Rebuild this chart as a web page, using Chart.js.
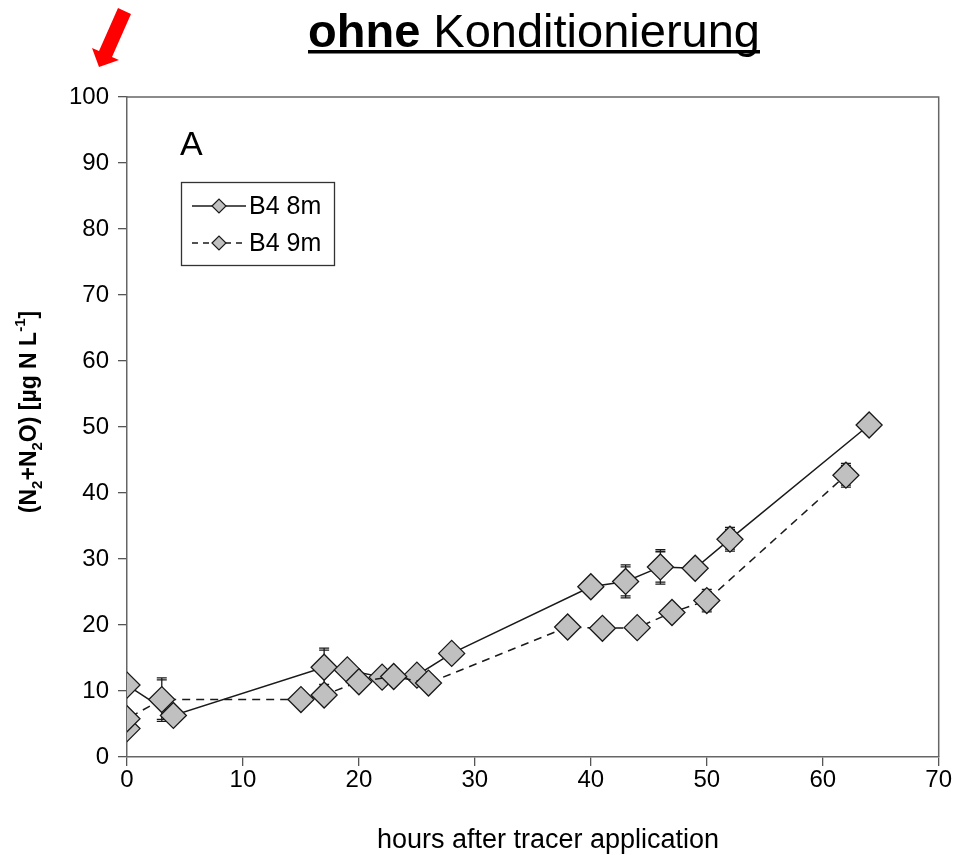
<!DOCTYPE html>
<html>
<head>
<meta charset="utf-8">
<script src="https://cdn.jsdelivr.net/npm/chart.js@4/dist/chart.umd.min.js"></script>
<style>
  html, body { margin: 0; padding: 0; background: #fff; }
  #wrap { width: 953px; height: 855px; position: relative; }
</style>
</head>
<body>
<div id="wrap"><canvas id="c" width="953" height="855"></canvas></div>
<script>
// Sampling times (hours after tracer application) and N2+N2O concentrations (µg N/L)
const hours8m = [0, 4, 17, 19, 22, 25, 28, 40, 43, 46, 49, 52, 64];
const values8m = [10.9, 6.3, 13.6, 13.2, 12.1, 12.4, 15.7, 25.8, 26.6, 28.8, 28.6, 33.0, 50.3];
const errors8m = [0, 0, 2.9, 0, 0, 0, 0, 0, 2.5, 2.6, 0, 1.8, 0];

const hours9m = [0, 0, 3, 15, 17, 20, 23, 26, 38, 41, 44, 47, 50, 62];
const values9m = [4.3, 5.8, 8.7, 8.7, 9.4, 11.4, 12.2, 11.2, 19.7, 19.5, 19.6, 21.9, 23.7, 42.7];
const errors9m = [0, 0, 3.3, 0, 0, 0, 0, 0, 0, 0, 0, 0, 1.7, 1.8];

const seriesNames = ['B4 8m', 'B4 9m'];
const xTicks = [0, 10, 20, 30, 40, 50, 60, 70];
const yTicks = [0, 10, 20, 30, 40, 50, 60, 70, 80, 90, 100];

const titleBold = 'ohne';
const titleRest = ' Konditionierung';
const panelLabel = 'A';
const xTitle = 'hours after tracer application';

const FONT = '"Liberation Sans", Arial, sans-serif';
const MARKER_FILL = '#c0c0c0';
const MARKER_EDGE = '#1a1a1a';

function toPoints(xs, ys) { return xs.map((x, i) => ({ x: x, y: ys[i] })); }

// Vertical error bars with caps, painted beneath the markers
const errorBars = {
  id: 'errorBars',
  beforeDatasetsDraw(chart) {
    const ctx = chart.ctx;
    const xs = chart.scales.x, ys = chart.scales.y;
    const sets = [[hours8m, values8m, errors8m], [hours9m, values9m, errors9m]];
    ctx.save();
    ctx.strokeStyle = '#1a1a1a';
    ctx.lineWidth = 1.3;
    sets.forEach(([h, v, e]) => {
      h.forEach((t, i) => {
        if (!e[i]) return;
        const px = xs.getPixelForValue(t);
        const top = ys.getPixelForValue(v[i] + e[i]);
        const bot = ys.getPixelForValue(v[i] - e[i]);
        ctx.beginPath();
        ctx.moveTo(px, top); ctx.lineTo(px, bot);
        ctx.moveTo(px - 5, top); ctx.lineTo(px + 5, top);
        ctx.moveTo(px - 5, top + 2); ctx.lineTo(px + 5, top + 2);
        ctx.moveTo(px - 5, bot); ctx.lineTo(px + 5, bot);
        ctx.moveTo(px - 5, bot - 2); ctx.lineTo(px + 5, bot - 2);
        ctx.stroke();
      });
    });
    ctx.restore();
  }
};

function drawDiamond(ctx, x, y, r) {
  ctx.beginPath();
  ctx.moveTo(x - r, y); ctx.lineTo(x, y - r); ctx.lineTo(x + r, y); ctx.lineTo(x, y + r);
  ctx.closePath();
  ctx.fillStyle = MARKER_FILL; ctx.fill();
  ctx.strokeStyle = MARKER_EDGE; ctx.lineWidth = 1.2; ctx.stroke();
}

// Frame, title, arrow, panel letter, legend and axis titles
const decorations = {
  id: 'decorations',
  afterDraw(chart) {
    const ctx = chart.ctx;
    const a = chart.chartArea;
    ctx.save();

    // plot frame (top and right edges)
    ctx.strokeStyle = '#666';
    ctx.lineWidth = 1.5;
    ctx.beginPath();
    ctx.moveTo(a.left, a.top); ctx.lineTo(a.right, a.top); ctx.lineTo(a.right, a.bottom);
    ctx.stroke();

    // title with bold first word, underlined
    ctx.fillStyle = '#000';
    ctx.textBaseline = 'alphabetic';
    ctx.textAlign = 'left';
    const fsz = 47;
    ctx.font = 'bold ' + fsz + 'px ' + FONT;
    const wB = ctx.measureText(titleBold).width;
    ctx.font = fsz + 'px ' + FONT;
    const wR = ctx.measureText(titleRest).width;
    const tx = 534 - (wB + wR) / 2;
    const ty = 47;
    ctx.font = 'bold ' + fsz + 'px ' + FONT;
    ctx.fillText(titleBold, tx, ty);
    ctx.font = fsz + 'px ' + FONT;
    ctx.fillText(titleRest, tx + wB, ty);
    ctx.fillRect(tx, ty + 3, wB + wR, 3.5);

    // red arrow pointing at the top of the value axis
    ctx.fillStyle = '#ff0000';
    ctx.beginPath();
    ctx.moveTo(118, 8);
    ctx.lineTo(131, 14);
    ctx.lineTo(112, 57);
    ctx.lineTo(119, 60);
    ctx.lineTo(99, 67);
    ctx.lineTo(92, 48);
    ctx.lineTo(99, 51);
    ctx.closePath();
    ctx.fill();

    // panel letter
    ctx.fillStyle = '#000';
    ctx.font = '34px ' + FONT;
    ctx.fillText(panelLabel, 180, 155);

    // legend box
    ctx.strokeStyle = '#333';
    ctx.lineWidth = 1.3;
    ctx.strokeRect(181.5, 182.5, 153, 83);
    const rows = [206, 243];
    rows.forEach((yy, i) => {
      ctx.strokeStyle = '#1a1a1a';
      ctx.lineWidth = 1.3;
      ctx.setLineDash(i === 0 ? [] : [6, 5]);
      ctx.beginPath();
      ctx.moveTo(192, yy); ctx.lineTo(246, yy);
      ctx.stroke();
      ctx.setLineDash([]);
      drawDiamond(ctx, 219, yy, 7);
      ctx.fillStyle = '#000';
      ctx.font = '25px ' + FONT;
      ctx.textBaseline = 'middle';
      ctx.fillText(seriesNames[i], 249, yy + 1);
    });

    // x-axis title
    ctx.textAlign = 'center';
    ctx.textBaseline = 'alphabetic';
    ctx.font = '27px ' + FONT;
    ctx.fillText(xTitle, 548, 848);

    // y-axis title with sub- and superscripts
    ctx.translate(36, 412);
    ctx.rotate(-Math.PI / 2);
    const big = 'bold 23px ' + FONT;
    const small = 'bold 15px ' + FONT;
    const parts = [
      ['(N', big, 0], ['2', small, 6], ['+N', big, 0], ['2', small, 6],
      ['O) [µg N L', big, 0], ['-1', small, -11], [']', big, 0]
    ];
    let total = 0;
    parts.forEach(p => { ctx.font = p[1]; total += ctx.measureText(p[0]).width; });
    let cx = -total / 2;
    ctx.textAlign = 'left';
    parts.forEach(p => {
      ctx.font = p[1];
      ctx.fillText(p[0], cx, p[2]);
      cx += ctx.measureText(p[0]).width;
    });
    ctx.restore();
  }
};

const datasets = [
  {
    label: seriesNames[0],
    data: toPoints(hours8m, values8m),
    borderColor: '#1a1a1a',
    borderWidth: 1.5,
    pointStyle: 'rectRot',
    pointRadius: 13,
    pointHoverRadius: 13,
    pointBackgroundColor: MARKER_FILL,
    pointBorderColor: MARKER_EDGE,
    pointBorderWidth: 1.3,
    tension: 0,
    order: 1
  },
  {
    label: seriesNames[1],
    data: toPoints(hours9m, values9m),
    borderColor: '#1a1a1a',
    borderWidth: 1.5,
    borderDash: [8, 6],
    pointStyle: 'rectRot',
    pointRadius: 13,
    pointHoverRadius: 13,
    pointBackgroundColor: MARKER_FILL,
    pointBorderColor: MARKER_EDGE,
    pointBorderWidth: 1.3,
    tension: 0,
    order: 0
  }
];

new Chart(document.getElementById('c'), {
  type: 'line',
  data: { datasets: datasets },
  options: {
    responsive: false,
    animation: false,
    events: [],
    layout: { padding: { top: 97, right: 14, left: 0, bottom: 0 } },
    plugins: { legend: { display: false }, tooltip: { enabled: false }, title: { display: false } },
    scales: {
      x: {
        type: 'linear',
        min: 0, max: 70,
        afterBuildTicks(s) { s.ticks = xTicks.map(v => ({ value: v })); },
        afterFit(s) { s.height = 855 - 757; },
        ticks: { color: '#000', font: { family: FONT, size: 24 }, padding: 0, maxRotation: 0 },
        grid: { drawOnChartArea: false, tickLength: 9, color: '#555', lineWidth: 1.3 },
        border: { color: '#666', width: 1.5 }
      },
      y: {
        min: 0, max: 100,
        afterBuildTicks(s) { s.ticks = yTicks.map(v => ({ value: v })); },
        afterFit(s) { s.width = 127; },
        ticks: { color: '#000', font: { family: FONT, size: 24 }, padding: 9 },
        grid: { drawOnChartArea: false, tickLength: 9, color: '#555', lineWidth: 1.3 },
        border: { color: '#666', width: 1.5 }
      }
    }
  },
  plugins: [errorBars, decorations]
});
</script>
</body>
</html>
